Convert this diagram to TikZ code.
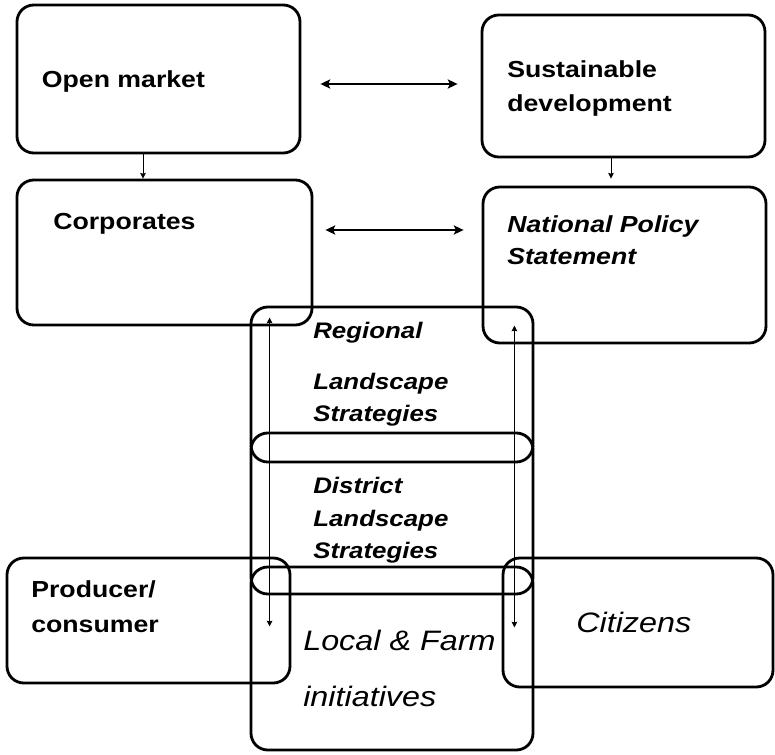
\documentclass[tikz,border=0pt]{standalone}
\usepackage{fontspec}
\setmainfont[FakeStretch=1.15]{Liberation Sans}
\usepackage{tikz}
\usetikzlibrary{ arrows.meta, }
\tikzset{
box/.style={draw, rounded corners=0.42cm, line width=2pt, inner sep=0pt}, % the rounded boxes
lbl/.style={inner sep=0pt, anchor=north west, align=left}, % the box texts
link/.style={line width=0.7pt, >={Stealth[length=4pt,width=4pt,inset=0.5pt]}}, % the thin arrows
wide/.style={line width=1.4pt, >={Stealth[length=7pt,width=6.5pt,inset=1.5pt]}}, % the two arrows across
}

\begin{document}
\begin{tikzpicture}
  \useasboundingbox (0,0) rectangle (19.375,-18.85);
  % boxes
  \node[box, minimum width=7.075cm, minimum height=3.7cm] (open) at (3.9625,-1.975) {};
  \node[box, minimum width=7.075cm, minimum height=3.55cm] (sust) at (15.5875,-2.15) {};
  \node[box, minimum width=7.375cm, minimum height=3.625cm] (corp) at (4.1125,-6.3125) {};
  \node[box, minimum width=7.075cm, minimum height=3.9cm] (natl) at (15.6125,-6.625) {};
  \node[box, minimum width=7.05cm, minimum height=3.875cm] (regional) at (9.8,-9.6125) {};
  \node[box, minimum width=7.05cm, minimum height=4.025cm] (district) at (9.8,-12.8375) {};
  \node[box, minimum width=7.05cm, minimum height=4.575cm] (local) at (9.8,-16.4625) {};
  \node[box, minimum width=7.075cm, minimum height=3.125cm] (prod) at (3.7125,-15.5125) {};
  \node[box, minimum width=6.75cm, minimum height=3.225cm] (citi) at (15.95,-15.5625) {};
  % texts
  \node[lbl, font=\bfseries\fontsize{16.5}{24}\selectfont] (opentxt) at (1.04,-1.75) {Open market};
  \node[lbl, font=\bfseries\fontsize{16.5}{24.2}\selectfont] (susttxt) at (12.675,-1.5) {Sustainable\\development};
  \node[lbl, font=\bfseries\fontsize{16.5}{24}\selectfont] (corptxt) at (1.325,-5.325) {Corporates};
  \node[lbl, font=\bfseries\itshape\fontsize{16.5}{22.8}\selectfont] (natltxt) at (12.675,-5.375) {National Policy\\Statement};
  \node[lbl, font=\bfseries\fontsize{16.5}{24.9}\selectfont] (prodtxt) at (0.775,-14.52) {Producer/\\consumer};
  \node[lbl, font=\bfseries\itshape\fontsize{16}{22.8}\selectfont] (regtxt) at (7.825,-8.05) {Regional\\[13.5pt]Landscape\\Strategies};
  \node[lbl, font=\bfseries\itshape\fontsize{16}{23.1}\selectfont] (disttxt) at (7.825,-11.925) {District\\Landscape\\Strategies};
  \node[lbl, font=\itshape\fontsize{20}{39.9}\selectfont] (localtxt) at (7.575,-15.75) {Local \& Farm\\initiatives};
  \node[lbl, font=\itshape\fontsize{20}{24}\selectfont] (cititxt) at (14.4,-15.3) {Citizens};
  % arrows
  \draw[wide,<->,shorten <=0.475cm,shorten >=0.575cm] ([yshift=-0.125cm]open.east) -- ([yshift=-0.125cm]open.east -| sust.west);
  \draw[wide,<->,shorten <=0.3cm,shorten >=0.45cm] ([yshift=0.5625cm]corp.east) -- ([yshift=0.5625cm]corp.east -| natl.west);
  \draw[link,->] ([xshift=-0.3875cm]open.south) -- ([xshift=-0.3875cm]open.south |- corp.north);
  \draw[link,->,shorten >=0.175cm] ([xshift=-0.3125cm]sust.south) -- ([xshift=-0.3125cm]sust.south |- natl.north);
  \draw[link,<->,shorten <=0.3cm,shorten >=3.125cm] ([xshift=0.5cm]regional.north west) -- ([xshift=0.5cm]local.south west);
  \draw[link,<->,shorten <=0.5cm,shorten >=3.1cm] ([xshift=-0.5cm]regional.north east) -- ([xshift=-0.5cm]local.south east);
\end{tikzpicture}
\end{document}
